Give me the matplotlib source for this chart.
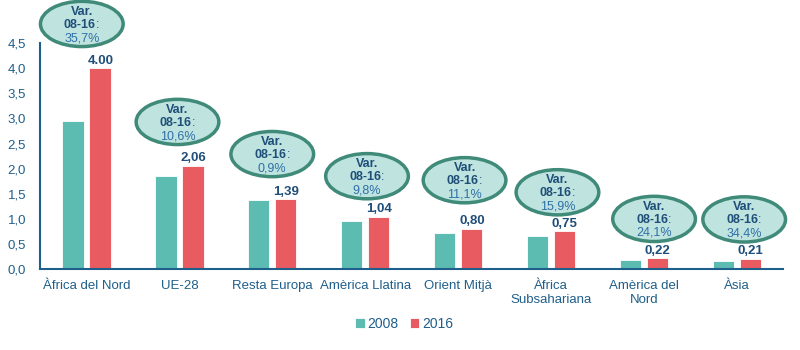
import matplotlib.pyplot as plt
from matplotlib.patches import Ellipse
import numpy as np

plt.rcParams['font.family'] = ['Liberation Sans', 'DejaVu Sans']

categories = ["Àfrica del Nord", "UE-28", "Resta Europa", "Amèrica Llatina",
              "Orient Mitjà", "Àfrica\nSubsahariana", "Amèrica del\nNord", "Àsia"]
values_2008 = [2.95, 1.86, 1.38, 0.95, 0.72, 0.65, 0.18, 0.16]
values_2016 = [4.00, 2.06, 1.39, 1.04, 0.80, 0.75, 0.22, 0.21]
labels_2016 = ["4.00", "2,06", "1,39", "1,04", "0,80", "0,75", "0,22", "0,21"]
variation = ["35,7%", "10,6%", "0,9%", "9,8%", "11,1%", "15,9%", "24,1%", "34,4%"]
# ellipse centres (category units, data units)
bubble_x = [-0.05, 0.98, 2.0, 3.02, 4.07, 5.07, 6.11, 7.08]
bubble_y = [4.88, 2.93, 2.29, 1.85, 1.77, 1.53, 1.0, 0.99]

TEAL = "#5cbcb1"
RED = "#e85b60"
NAVY = "#1f4e79"
AXIS = "#1f5f8b"
PCT = "#2e6fa8"

fig = plt.figure(figsize=(8, 3.5), dpi=100)
ax = fig.add_axes([0.05, 0.231, 0.929, 0.646])

x = np.arange(len(categories))
w = 0.23
ax.bar(x - 0.145, values_2008, w, color=TEAL, edgecolor="white", linewidth=0.6, label="2008")
ax.bar(x + 0.145, values_2016, w, color=RED, edgecolor="white", linewidth=0.6, label="2016")

for i, (v, lab) in enumerate(zip(values_2016, labels_2016)):
    ax.text(x[i] + 0.15, v + 0.03, lab, ha="center", va="bottom",
            fontsize=9.5, fontweight="bold", color=NAVY)

for xc, yc, var in zip(bubble_x, bubble_y, variation):
    ax.add_patch(Ellipse((xc, yc), 0.89, 0.9, facecolor="#bfe4df",
                         edgecolor="#3f8a78", linewidth=2.5, clip_on=False, zorder=3))
    ty = yc - 0.02
    ax.text(xc, ty + 0.26, "Var.", ha="center", va="center", fontsize=9,
            fontweight="bold", color=NAVY, zorder=4)
    t = ax.text(xc - 0.02, ty, "08-16", ha="center", va="center", fontsize=9,
                fontweight="bold", color=NAVY, zorder=4)
    ax.annotate(":", xy=(1, 0.5), xycoords=t, ha="left", va="center",
                fontsize=9, color=NAVY, zorder=4)
    ax.text(xc, ty - 0.26, var, ha="center", va="center", fontsize=9,
            color=PCT, zorder=4)

ax.set_xlim(-0.5, len(categories) - 0.5)
ax.set_ylim(0, 4.5)
ax.set_yticks(np.arange(0, 4.51, 0.5))
ax.set_yticklabels([f"{t:.1f}".replace(".", ",") for t in np.arange(0, 4.51, 0.5)])
ax.set_xticks(x)
ax.set_xticklabels(categories)
ax.tick_params(axis="both", length=0, colors=AXIS)
ax.tick_params(axis="x", pad=8, labelsize=9.5)
ax.tick_params(axis="y", pad=10, labelsize=9.5)
for s in ["top", "right"]:
    ax.spines[s].set_visible(False)
for s in ["left", "bottom"]:
    ax.spines[s].set_color(AXIS)
    ax.spines[s].set_linewidth(1.5)

fig.legend(loc="lower center", bbox_to_anchor=(0.505, 0.02), ncol=2, frameon=False,
           fontsize=10, handlelength=0.7, handleheight=0.7, handletextpad=0.2,
           columnspacing=0.8, labelcolor=AXIS)

fig.savefig("out.png", dpi=100)
